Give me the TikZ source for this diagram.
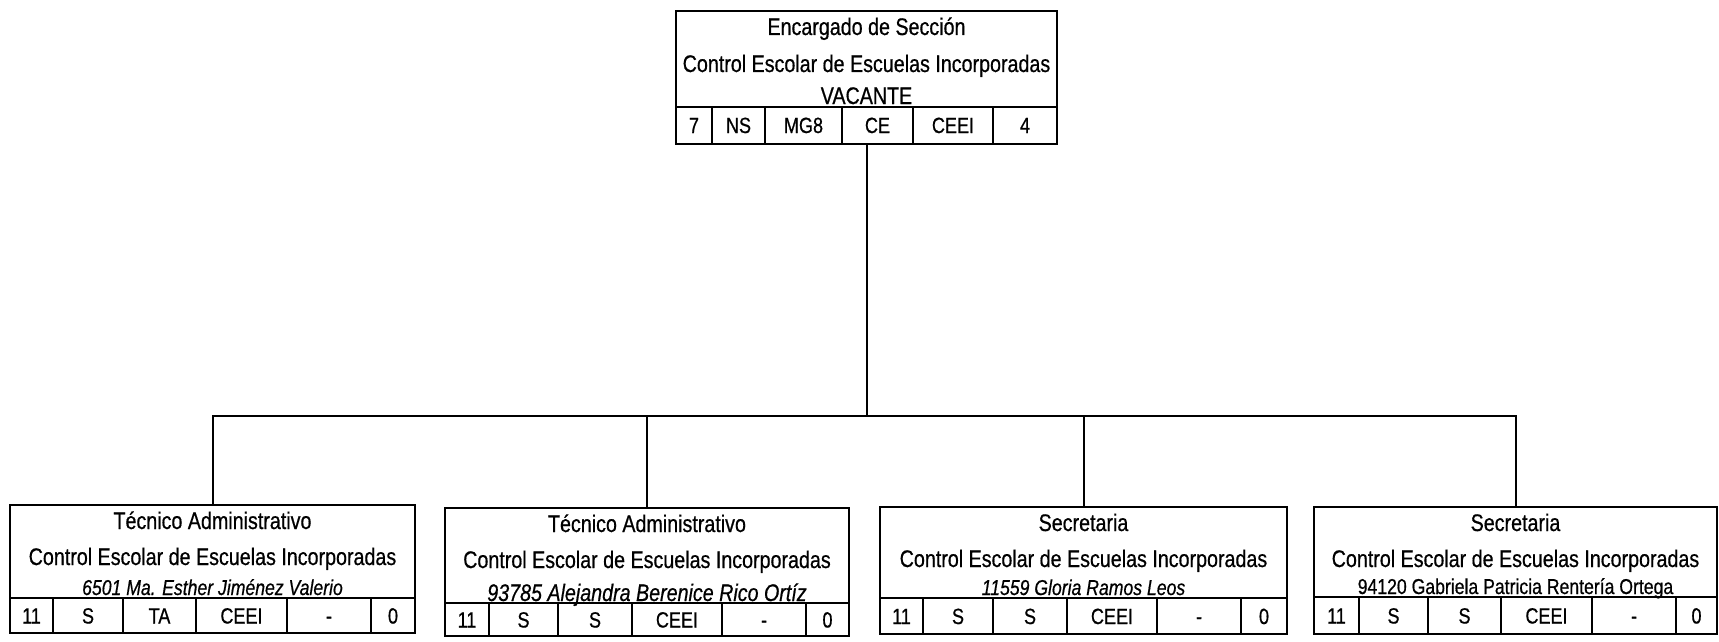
\documentclass[tikz,border=0pt]{standalone}
\usepackage{fontspec}
\setmainfont[FakeStretch=0.82,FakeBold=0.6]{Liberation Sans}
\begin{document}
\begin{tikzpicture}[x=1pt,y=-1pt,
  box/.style={draw, line width=2.5pt, inner sep=0pt, outer sep=0pt},
  gridline/.style={line width=2pt},
  conn/.style={line width=2pt},
  ttl/.style={anchor=base, inner sep=0pt, font=\fontsize{24}{28}\selectfont},
  nmi/.style={anchor=base, inner sep=0pt, font=\fontsize{21.5}{26}\selectfont\itshape},
  nmu/.style={anchor=base, inner sep=0pt, font=\fontsize{21.5}{26}\selectfont},
  cell/.style={anchor=base, inner sep=0pt, font=\fontsize{22}{26}\selectfont}]
\useasboundingbox (0,0) rectangle (1719,642);

% ---------- top box
\node[box, minimum width=381pt, minimum height=133pt] (top) at (866.5,77.5) {};
\draw[gridline] (top.west |- 0,107) -- (top.east |- 0,107);
\foreach \x in {712,765,842,913,993} \draw[gridline] (\x,107) -- (\x,144);
\node[ttl] (top-l1) at (866.5,35) {Encargado de Sección};
\node[ttl] (top-l2) at (866.5,72) {Control Escolar de Escuelas Incorporadas};
\node[ttl] (top-l3) at (866.5,104) {VACANTE};
\foreach \x/\t [count=\i] in {694/7,738.5/NS,803.5/MG8,877.5/CE,953/CEEI,1025/4}
  \node[cell] (top-c\i) at (\x,133) {\t};

% ---------- box 1
\node[box, minimum width=405pt, minimum height=128pt] (b1) at (212.5,569) {};
\draw[gridline] (b1.west |- 0,598) -- (b1.east |- 0,598);
\foreach \x in {53,123,196,287,371} \draw[gridline] (\x,598) -- (\x,633);
\node[ttl] (b1-l1) at (212.5,529) {Técnico Administrativo};
\node[ttl] (b1-l2) at (212.5,565) {Control Escolar de Escuelas Incorporadas};
\node[nmi] (b1-l3) at (212.5,595) {6501 Ma. Esther Jiménez Valerio};
\foreach \x/\t [count=\i] in {31.5/11,88/S,159.5/TA,241.5/CEEI,329/-,393/0}
  \node[cell] (b1-c\i) at (\x,623.5) {\t};

% ---------- box 2
\node[box, minimum width=404pt, minimum height=128pt] (b2) at (647,572) {};
\draw[gridline] (b2.west |- 0,603) -- (b2.east |- 0,603);
\foreach \x in {489,558,632,722,806} \draw[gridline] (\x,603) -- (\x,636);
\node[ttl] (b2-l1) at (647,532) {Técnico Administrativo};
\node[ttl] (b2-l2) at (647,568) {Control Escolar de Escuelas Incorporadas};
\node[ttl, font=\fontsize{24}{28}\selectfont\itshape] (b2-l3) at (647,601) {93785 Alejandra Berenice Rico Ortíz};
\foreach \x/\t [count=\i] in {467/11,523.5/S,595/S,677/CEEI,764/-,827.5/0}
  \node[cell] (b2-c\i) at (\x,627.5) {\t};

% ---------- box 3
\node[box, minimum width=407pt, minimum height=127pt] (b3) at (1083.5,570.5) {};
\draw[gridline] (b3.west |- 0,598) -- (b3.east |- 0,598);
\foreach \x in {923,993,1067,1157,1241} \draw[gridline] (\x,598) -- (\x,634);
\node[ttl] (b3-l1) at (1083.5,531) {Secretaria};
\node[ttl] (b3-l2) at (1083.5,567) {Control Escolar de Escuelas Incorporadas};
\node[nmi] (b3-l3) at (1083.5,595) {11559 Gloria Ramos Leos};
\foreach \x/\t [count=\i] in {901.5/11,958/S,1030/S,1112/CEEI,1199/-,1264/0}
  \node[cell] (b3-c\i) at (\x,624) {\t};

% ---------- box 4
\node[box, minimum width=403pt, minimum height=127pt] (b4) at (1515.5,570.5) {};
\draw[gridline] (b4.west |- 0,597) -- (b4.east |- 0,597);
\foreach \x in {1359,1428,1501,1592,1676} \draw[gridline] (\x,597) -- (\x,634);
\node[ttl] (b4-l1) at (1515.5,531) {Secretaria};
\node[ttl] (b4-l2) at (1515.5,567) {Control Escolar de Escuelas Incorporadas};
\node[nmu] (b4-l3) at (1515.5,594) {94120 Gabriela Patricia Rentería Ortega};
\foreach \x/\t [count=\i] in {1336.5/11,1393.5/S,1464.5/S,1546.5/CEEI,1634/-,1696.5/0}
  \node[cell] (b4-c\i) at (\x,623.5) {\t};

% ---------- connectors
\coordinate (bus) at (866.5,416);
\draw[conn] (top.south) -- (bus);
\draw[conn] (b1.north) -- (b1.north |- bus) -- (b4.north |- bus) -- (b4.north);
\draw[conn] (b2.north) -- (b2.north |- bus);
\draw[conn] (b3.north) -- (b3.north |- bus);
\end{tikzpicture}
\end{document}
